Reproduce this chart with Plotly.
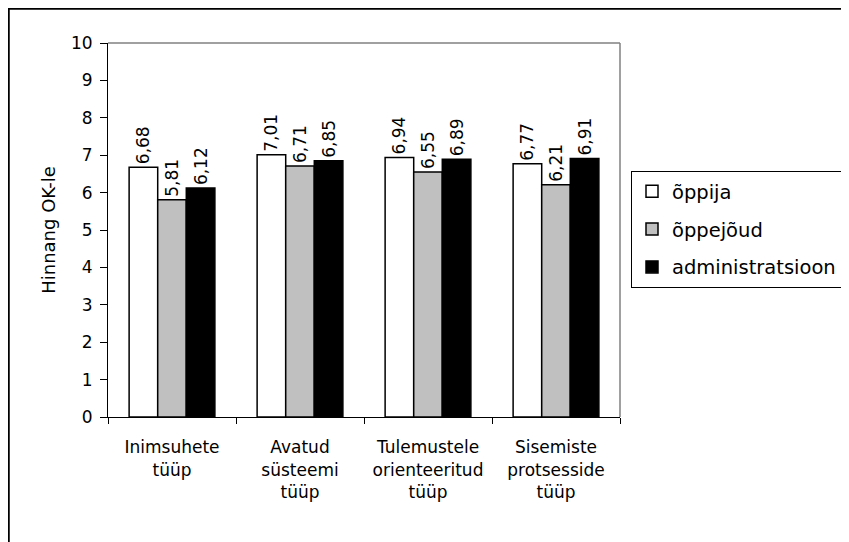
import plotly.graph_objects as go

categories = ["Inimsuhete<br>tüüp", "Avatud<br>süsteemi<br>tüüp",
              "Tulemustele<br>orienteeritud<br>tüüp", "Sisemiste<br>protsesside<br>tüüp"]
series_names = ["õppija", "õppejõud", "administratsioon"]
oppija = [6.68, 7.01, 6.94, 6.77]
oppejoud = [5.81, 6.71, 6.55, 6.21]
administratsioon = [6.12, 6.85, 6.89, 6.91]
y_tick_vals = list(range(0, 11))

colors = ["#FFFFFF", "#C0C0C0", "#000000"]
FONT = "DejaVu Sans, Liberation Sans, Arial, sans-serif"

fig = go.Figure()
for i, (name, vals) in enumerate(zip(series_names, [oppija, oppejoud, administratsioon])):
    fig.add_trace(go.Bar(
        x=categories, y=vals, name=name,
        marker=dict(color=colors[i], line=dict(color="black", width=1.5)),
        texttemplate="%{y:.2f}", textposition="outside", textangle=-90,
        textfont=dict(family=FONT, size=17, color="black"),
        constraintext="none",
        cliponaxis=False, legendgroup=name,
    ))

W, H = 849, 542
L, R, T, B = 100, 237, 35, 133
pw, ph = W - L - R, H - T - B

def px_x(p):
    return (p - L) / pw

def px_y(p):
    return (H - B - p) / ph

fig.update_layout(
    width=W, height=H,
    margin=dict(l=L, r=R, t=T, b=B, autoexpand=False),
    paper_bgcolor="white", plot_bgcolor="white",
    separators=", ",
    barmode="group", bargap=0.33, bargroupgap=0,
    font=dict(family=FONT, color="black"),
    showlegend=True,
    legend=dict(
        x=px_x(623), y=px_y(163), xanchor="left", yanchor="top",
        bgcolor="white", bordercolor="black", borderwidth=1,
        font=dict(family=FONT, size=19.5, color="black"),
        tracegroupgap=9.5, traceorder="grouped",
    ),
    xaxis=dict(
        showline=True, linecolor="black", linewidth=1,
        ticks="outside", ticklen=6, tickcolor="black", tickson="boundaries",
        tickfont=dict(family=FONT, size=17, color="black"),
        ticklabelstandoff=15, showgrid=False,
    ),
    yaxis=dict(
        range=[0, 10], tickvals=y_tick_vals, showgrid=False, zeroline=False,
        showline=True, linecolor="black", linewidth=1,
        ticks="outside", ticklen=7, tickcolor="black",
        tickfont=dict(family=FONT, size=17, color="black"),
        ticklabelstandoff=4,
        title=dict(text="Hinnang OK-le", font=dict(family=FONT, size=18, color="black"), standoff=10),
    ),
    shapes=[
        dict(type="line", xref="paper", yref="paper", x0=0, x1=1, y0=1, y1=1,
             line=dict(color="#808080", width=1.5)),
        dict(type="line", xref="paper", yref="paper", x0=1, x1=1, y0=0, y1=1,
             line=dict(color="#808080", width=1.5)),
        dict(type="rect", xref="paper", yref="paper",
             x0=px_x(0.5), x1=px_x(870), y0=px_y(570), y1=px_y(0.5),
             line=dict(color="black", width=2.5), fillcolor="rgba(0,0,0,0)"),
    ],
)

fig.write_html("out.html")
